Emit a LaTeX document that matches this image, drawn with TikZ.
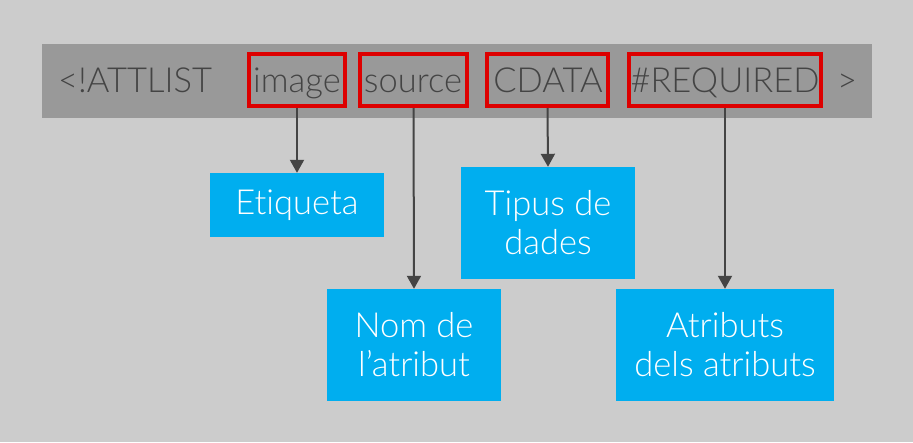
\documentclass[tikz,border=0pt]{standalone}
\usepackage{fontspec}
\setmainfont{Lato}[UprightFont={* Light}, Ligatures={NoCommon}]
\usetikzlibrary{arrows.meta}
\definecolor{bg}{HTML}{CCCCCC}
\definecolor{bar}{HTML}{999999}
\definecolor{redbox}{HTML}{DD0000}
\definecolor{bluebox}{HTML}{00AEEF}
\definecolor{ink}{HTML}{444444}
\tikzset{
  word/.style={anchor=base, text=ink, inner sep=0pt, font=\fontsize{34.5}{39}\selectfont},
  hl/.style={draw=redbox, line width=4pt, minimum height=52pt, inner sep=0pt},
  info/.style={fill=bluebox, text=white, align=center, inner sep=0pt, font=\fontsize{34.5}{39}\selectfont},
  conn/.style={draw=ink, line width=2pt, -{Triangle[width=14pt,length=13pt]}},
}
\begin{document}
\begin{tikzpicture}[x=1pt,y=-1pt]
\fill[bg] (0,0) rectangle (913,442);
\useasboundingbox (0,0) rectangle (913,442);
\fill[bar] (42,44) rectangle (872,118);
% highlight boxes
\node[hl, minimum width=96pt] (himage) at (297,80) {};
\node[hl, minimum width=107pt] (hsource) at (413.5,80) {};
\node[hl, minimum width=121pt] (hcdata) at (547.5,80) {};
\node[hl, minimum width=192pt] (hreq) at (725,80) {};
% words
\node[word] (wattl) at (135,92) {<!ATTLIST};
\node[word] (wimage) at (297,92) {image};
\node[word] (wsource) at (413,92) {source};
\node[word] (wcdata) at (548,92) {CDATA};
\node[word] (wreq) at (725,92) {\#REQUIRED};
\node[word] (wgt) at (847,92) {>};
% info boxes
\node[info, minimum width=174pt, minimum height=64pt] (etiq) at (297,205) {Etiqueta};
\node[info, minimum width=174pt, minimum height=112pt] (tipus) at (548,223) {Tipus de\\dades};
\node[info, minimum width=174pt, minimum height=112pt] (nom) at (414,345) {Nom de\\l’atribut};
\node[info, minimum width=218pt, minimum height=112pt] (atr) at (725,345) {Atributs\\dels atributs};
% connectors
\draw[conn] (himage.south) -- (etiq.north);
\draw[conn] (hsource.south) -- (nom.north);
\draw[conn] (hcdata.south) -- (tipus.north);
\draw[conn] (hreq.south) -- (atr.north);
\end{tikzpicture}
\end{document}
